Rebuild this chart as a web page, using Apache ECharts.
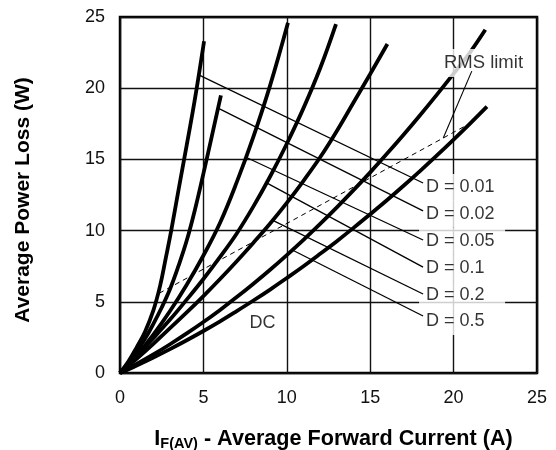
<!DOCTYPE html>
<html><head><meta charset="utf-8">
<script src="https://cdn.jsdelivr.net/npm/echarts@6/dist/echarts.min.js"></script>
<style>html,body{margin:0;padding:0;background:#fff}#c{width:556px;height:450px}</style>
</head><body><div id="c"></div>
<script>
// ---- data ----
const xTicks = [0, 5, 10, 15, 20, 25];
const yTicks = [0, 5, 10, 15, 20, 25];
const dLabels = ['D = 0.01', 'D = 0.02', 'D = 0.05', 'D = 0.1', 'D = 0.2', 'D = 0.5'];

const curveD001 = [[0,0],[0.5,0.8],[1,1.8],[1.5,2.9],[2.0,4.4],[2.4,6.1],[2.75,8.1],[3.07,10.0],[3.5,12.8],[4.0,16.0],[4.5,19.3],[5.04,23.3]];
const curveD002 = [[0,0],[0.5,0.7],[1,1.5],[1.5,2.4],[2,3.45],[2.5,4.6],[3,5.9],[3.5,7.5],[4,9.3],[4.5,11.5],[5,14.0],[5.5,16.6],[6.05,19.5]];
const curveD005 = [[0,0],[1,1.25],[2,2.7],[3,4.35],[4,6.2],[5,8.25],[6,10.55],[7,13.4],[8,16.6],[9,20.2],[10.07,24.6]];
const curveD01  = [[0,0],[1,1.2],[2,2.45],[3,3.75],[4,5.15],[5,6.6],[6,8.15],[7,9.8],[8,11.7],[9,13.8],[10,16.1],[11,18.6],[12,21.4],[12.95,24.5]];
const curveD02  = [[0,0],[1,1.0],[2,2.05],[3,3.15],[4,4.25],[5,5.4],[6,6.6],[7,7.85],[8,9.15],[9,10.5],[10,11.95],[11,13.5],[12,15.15],[13,17.0],[14,19.0],[15,21.0],[16.03,23.1]];
const curveD05  = [[0,0],[1,0.63],[2,1.30],[3,2.02],[4,2.78],[5,3.58],[6,4.43],[7,5.33],[8,6.27],[9,7.25],[10,8.28],[11,9.35],[12,10.47],[13,11.63],[14,12.84],[15,14.09],[16,15.39],[17,16.73],[18,18.12],[19,19.55],[20,21.02],[21,22.54],[21.9,24.1]];
const curveDC   = [[0,0],[1,0.53],[2,1.09],[3,1.68],[4,2.30],[5,2.95],[6,3.63],[7,4.35],[8,5.09],[9,5.86],[10,6.67],[11,7.50],[12,8.37],[13,9.26],[14,10.19],[15,11.15],[16,12.13],[17,13.15],[18,14.20],[19,15.28],[20,16.39],[21,17.53],[22,18.70]];

const rmsLimit = [[2.35,5.6],[20.7,17.35]];
const rmsLeader = [[19.38,16.5],[21.09,21.2]];
const rmsLabelPos = [21.79, 21.77];

const leaderStart = [[4.72,20.93],[5.88,18.6],[7.55,15.15],[8.79,13.35],[9.16,10.72],[10.39,8.6]];
const leaderEnd   = [[18.17,13.34],[18.17,11.38],[18.17,9.34],[18.17,7.44],[18.17,5.55],[18.17,4.0]];
const dLabelPos   = [[17.93,13.03],[17.93,11.15],[17.93,9.26],[17.93,7.38],[17.93,5.50],[17.93,3.62]];
const dcLabelPos  = [8.54, 3.48];

// ---- chart ----
const FONT = "'Liberation Sans', Arial, Helvetica, sans-serif";
const chart = echarts.init(document.getElementById('c'), null, {renderer: 'canvas'});

const curves = [curveD001, curveD002, curveD005, curveD01, curveD02, curveD05, curveDC];
const series = [];
curves.forEach(function (c) {
  series.push({
    type: 'line', data: c, showSymbol: false, smooth: 0.4, z: 2,
    lineStyle: {color: '#000', width: 3.8, cap: 'butt'}, silent: true
  });
});
series.push({
  type: 'line', data: rmsLimit, showSymbol: false, z: 2, silent: true,
  lineStyle: {color: '#000', width: 1, type: [5, 4]}
});
series.push({
  type: 'line', data: rmsLeader, showSymbol: false, z: 5, silent: true,
  lineStyle: {color: '#000', width: 1.1}
});
leaderStart.forEach(function (s, i) {
  series.push({
    type: 'line', data: [s, leaderEnd[i]], showSymbol: false, z: 5, silent: true,
    lineStyle: {color: '#000', width: 1.3}
  });
});
series.push({
  type: 'scatter', symbolSize: 0, z: 3, silent: true,
  data: dLabelPos.map(function (p, i) { return {value: p, name: dLabels[i]}; }),
  label: {
    show: true, position: 'right', distance: 0,
    formatter: '{b}', color: '#000', fontSize: 18, fontFamily: FONT,
    backgroundColor: '#fff', padding: [3, 12, 4, 7], width: 67, lineHeight: 20
  }
});
series.push({
  type: 'scatter', symbolSize: 0, z: 3, silent: true,
  data: [{value: rmsLabelPos, name: 'RMS limit'}],
  label: {
    show: true, position: 'inside', formatter: '{b}', color: '#000', fontSize: 18.5,
    fontFamily: FONT, backgroundColor: '#fff', padding: [4, 2, 4, 2], lineHeight: 20
  }
});
series.push({
  type: 'scatter', symbolSize: 0, z: 3, silent: true,
  data: [{value: dcLabelPos, name: 'DC'}],
  label: {show: true, position: 'inside', formatter: '{b}', color: '#000', fontSize: 18, fontFamily: FONT}
});

chart.setOption({
  animation: false,
  backgroundColor: '#fff',
  grid: {left: 120, right: 19, top: 17, bottom: 77, show: true, borderColor: '#000', borderWidth: 2.5,
         backgroundColor: 'transparent', containLabel: false, outerBoundsMode: 'none'},
  xAxis: {
    type: 'value', min: xTicks[0], max: xTicks[xTicks.length - 1], interval: xTicks[1] - xTicks[0],
    axisLine: {show: false}, axisTick: {show: false},
    splitLine: {show: true, lineStyle: {color: '#111', width: 1.4}},
    axisLabel: {color: '#111', fontSize: 18, fontFamily: FONT, margin: 16},
    name: '{m|I}{s|F(AV)}{m| - Average Forward Current (A)}',
    nameLocation: 'middle', nameGap: 54,
    nameTextStyle: {
      padding: [0, 0, 0, 10],
      rich: {
        m: {fontSize: 21.6, fontWeight: 'bold', fontFamily: FONT, color: '#000', lineHeight: 24},
        s: {fontSize: 14.5, fontWeight: 'bold', fontFamily: FONT, color: '#000', lineHeight: 16, padding: [10, 0, 0, 0]}
      }
    }
  },
  yAxis: {
    type: 'value', min: yTicks[0], max: yTicks[yTicks.length - 1], interval: yTicks[1] - yTicks[0],
    axisLine: {show: false}, axisTick: {show: false},
    splitLine: {show: true, lineStyle: {color: '#111', width: 1.4}},
    axisLabel: {color: '#111', fontSize: 18, fontFamily: FONT, margin: 15},
    name: 'Average Power Loss (W)', nameLocation: 'middle', nameGap: 86,
    nameTextStyle: {fontSize: 21, fontWeight: 'bold', fontFamily: FONT, color: '#000', padding: [0, 10, 0, 0]}
  },
  series: series
});
</script>
</body></html>
